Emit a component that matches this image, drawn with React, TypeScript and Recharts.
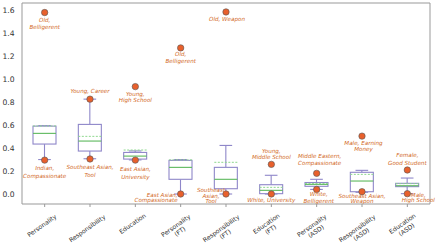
import React from 'react';
import { ComposedChart, Bar, Scatter, XAxis, YAxis } from 'recharts';

// Box-plot statistics per category
const CATEGORIES = [
  'Personality',
  'Responsibility',
  'Education',
  'Personality (FT)',
  'Responsibility (FT)',
  'Education (FT)',
  'Personality (ASD)',
  'Responsibility (ASD)',
  'Education (ASD)',
];
const WHISKER_LOW = [0.3, 0.307, 0.297, 0.0, 0.0, 0.0, 0.04, 0.015, 0.003];
const Q1 = [0.435, 0.374, 0.304, 0.128, 0.046, 0.003, 0.067, 0.02, 0.064];
const MEDIAN = [0.528, 0.461, 0.33, 0.232, 0.128, 0.032, 0.084, 0.113, 0.072];
const MEAN = [0.592, 0.502, 0.383, 0.297, 0.276, 0.058, 0.092, 0.171, 0.09];
const Q3 = [0.591, 0.606, 0.362, 0.293, 0.232, 0.081, 0.1, 0.189, 0.093];
const WHISKER_HIGH = [0.595, 0.826, 0.375, 0.3, 0.423, 0.163, 0.128, 0.206, 0.139];

// Annotated extreme points
const TOP_POINT = [1.58, 0.826, 0.935, 1.272, 1.585, 0.258, 0.18, 0.504, 0.209];
const TOP_LABEL = [
  'Old,\nBelligerent',
  'Young, Career',
  'Young,\nHigh School',
  'Old,\nBelligerent',
  'Old, Weapon',
  'Young,\nMiddle School',
  'Middle Eastern,\nCompassionate',
  'Male, Earning\nMoney',
  'Female,\nGood Student',
];
const BOTTOM_POINT = [0.295, 0.305, 0.295, 0.0, 0.0, 0.0, 0.04, 0.02, 0.003];
const BOTTOM_LABEL = [
  'Indian,\nCompassionate',
  'Southeast Asian,\nTool',
  'East Asian,\nUniversity',
  'East Asian,\nCompassionate',
  'Southeast\nAsian,\nTool',
  'White, University',
  'White,\nBelligerent',
  'Southeast Asian,\nWeapon',
  'Male,\nHigh School',
];

const Y_TICKS = [0, 0.2, 0.4, 0.6, 0.8, 1.0, 1.2, 1.4, 1.6];

// label placement relative to its dot (style only)
type LabelLayout = { dx: number; dy: number; lh: number; anchor?: 'start' | 'middle' | 'end' };
const TOP_LAYOUT: LabelLayout[] = [
  { dx: 0, dy: 7, lh: 7 },
  { dx: 0, dy: -8.5, lh: 7 },
  { dx: 0, dy: 7.5, lh: 6 },
  { dx: 0, dy: 6.5, lh: 6.7 },
  { dx: 1, dy: 6.6, lh: 7 },
  { dx: 0, dy: -13.6, lh: 6.6 },
  { dx: 3, dy: -17.6, lh: 7.6 },
  { dx: 1.5, dy: 6.7, lh: 6.6 },
  { dx: 0, dy: -15.5, lh: 8.5 },
];
const BOTTOM_LAYOUT: LabelLayout[] = [
  { dx: 0, dy: 7.5, lh: 8.6 },
  { dx: 0, dy: 7.8, lh: 8.6 },
  { dx: 0, dy: 8.6, lh: 8.6 },
  { dx: -3, dy: 0.6, lh: 5, anchor: 'end' },
  { dx: -15, dy: -3.8, lh: 5.6 },
  { dx: 0, dy: 6.2, lh: 7 },
  { dx: 2, dy: 4.7, lh: 6.7 },
  { dx: 0, dy: 4.6, lh: 4.5 },
  { dx: 11, dy: 1, lh: 5.6 },
];

const COLORS = {
  box: '#8f87c9',
  median: '#5cb85c',
  mean: '#8ed88e',
  dot: '#e8602c',
  dotEdge: '#555555',
  label: '#d2691e',
  axis: '#999999',
  text: '#333333',
};

const FONT = '"DejaVu Sans", sans-serif';

const data = CATEGORIES.map((name, i) => ({
  name,
  low: WHISKER_LOW[i],
  q1: Q1[i],
  median: MEDIAN[i],
  mean: MEAN[i],
  q3: Q3[i],
  high: WHISKER_HIGH[i],
  top: TOP_POINT[i],
  topLabel: TOP_LABEL[i],
  bottom: BOTTOM_POINT[i],
  bottomLabel: BOTTOM_LABEL[i],
}));

function BoxShape(props: any) {
  const { x, y, width, height, payload } = props;
  const top = Math.min(y, y + height);
  const bot = Math.max(y, y + height);
  const k = (bot - top) / (payload.high - payload.low);
  const py = (v: number) => top + (payload.high - v) * k;
  const cx = x + width / 2;
  const cap = width * 0.55;
  return (
    <g>
      <line x1={cx} x2={cx} y1={py(payload.high)} y2={py(payload.q3)} stroke={COLORS.box} strokeWidth={1.1} />
      <line x1={cx} x2={cx} y1={py(payload.q1)} y2={py(payload.low)} stroke={COLORS.box} strokeWidth={1.1} />
      <line x1={cx - cap / 2} x2={cx + cap / 2} y1={py(payload.high)} y2={py(payload.high)} stroke={COLORS.box} strokeWidth={1.1} />
      <line x1={cx - cap / 2} x2={cx + cap / 2} y1={py(payload.low)} y2={py(payload.low)} stroke={COLORS.box} strokeWidth={1.1} />
      <rect
        x={x}
        y={py(payload.q3)}
        width={width}
        height={py(payload.q1) - py(payload.q3)}
        fill="#ffffff"
        stroke={COLORS.box}
        strokeWidth={1.1}
      />
      <line x1={x} x2={x + width} y1={py(payload.median)} y2={py(payload.median)} stroke={COLORS.median} strokeWidth={1.1} />
      <line
        x1={x}
        x2={x + width}
        y1={py(payload.mean)}
        y2={py(payload.mean)}
        stroke={COLORS.mean}
        strokeWidth={1}
        strokeDasharray="2 1.5"
      />
    </g>
  );
}

function makePointShape(labelKey: 'topLabel' | 'bottomLabel', layouts: LabelLayout[]) {
  return (props: any) => {
    const { cx, cy, payload } = props;
    const idx = CATEGORIES.indexOf(payload.name);
    const lay = layouts[idx];
    const lines = String(payload[labelKey]).split('\n');
    return (
      <g>
        <circle cx={cx} cy={cy} r={3.2} fill={COLORS.dot} stroke={COLORS.dotEdge} strokeWidth={0.6} />
        {lines.map((t, i) => (
          <text
            key={i}
            x={cx + lay.dx}
            y={cy + lay.dy + i * lay.lh}
            textAnchor={lay.anchor || 'middle'}
            dominantBaseline="central"
            fontSize={5.6}
            fontStyle="italic"
            fontFamily={FONT}
            fill={COLORS.label}
          >
            {t}
          </text>
        ))}
      </g>
    );
  };
}

function CategoryTick(props: any) {
  const { x, y, payload } = props;
  const name = String(payload.value);
  const m = name.match(/^(.*) (\(.*\))$/);
  const lines = m ? [m[1], m[2]] : [name];
  const fs = 6.2;
  const lh = 7.2;
  const th = (35 * Math.PI) / 180;
  const L = Math.max(...lines.map((t) => t.length * fs * 0.53));
  const H = L * Math.sin(th) + lines.length * lh * Math.cos(th);
  const cx = x - 3;
  const cy = y + 3 + H / 2;
  return (
    <g transform={`translate(${cx},${cy}) rotate(-35)`}>
      {lines.map((t, i) => (
        <text
          key={i}
          x={0}
          y={(i - (lines.length - 1) / 2) * lh}
          textAnchor="middle"
          dominantBaseline="central"
          fontSize={fs}
          fontFamily={FONT}
          fill={COLORS.text}
        >
          {t}
        </text>
      ))}
    </g>
  );
}

export default function App() {
  return (
    <div style={{ position: 'absolute', left: 0, top: 0, width: 438, height: 247, background: '#fff' }}>
      <ComposedChart width={438} height={247} data={data} margin={{ top: 2, right: 7, left: 0, bottom: 0 }}>
        <XAxis
          dataKey="name"
          interval={0}
          height={43}
          tick={<CategoryTick />}
          tickSize={3}
          tickMargin={2}
          stroke={COLORS.axis}
          tickLine={{ stroke: COLORS.axis }}
        />
        <XAxis
          xAxisId="top"
          dataKey="name"
          orientation="top"
          height={1}
          tick={false}
          tickLine={false}
          stroke={COLORS.axis}
        />
        <YAxis
          type="number"
          domain={[-0.087, 1.663]}
          ticks={Y_TICKS}
          allowDataOverflow
          width={22}
          tickLine={false}
          tickSize={5}
          tickMargin={2.5}
          tickFormatter={(v: number) => v.toFixed(1)}
          tick={{ fontSize: 7.6, fontFamily: FONT, fill: COLORS.text }}
          stroke={COLORS.axis}
        />
        <YAxis
          yAxisId="right"
          orientation="right"
          type="number"
          domain={[-0.087, 1.663]}
          allowDataOverflow
          width={1}
          tick={false}
          tickLine={false}
          stroke={COLORS.axis}
        />
        <Bar
          dataKey={(d: any) => [d.low, d.high]}
          barSize={23}
          shape={<BoxShape />}
          isAnimationActive={false}
        />
        <Scatter dataKey="top" shape={makePointShape('topLabel', TOP_LAYOUT)} isAnimationActive={false} />
        <Scatter dataKey="bottom" shape={makePointShape('bottomLabel', BOTTOM_LAYOUT)} isAnimationActive={false} />
      </ComposedChart>
    </div>
  );
}
